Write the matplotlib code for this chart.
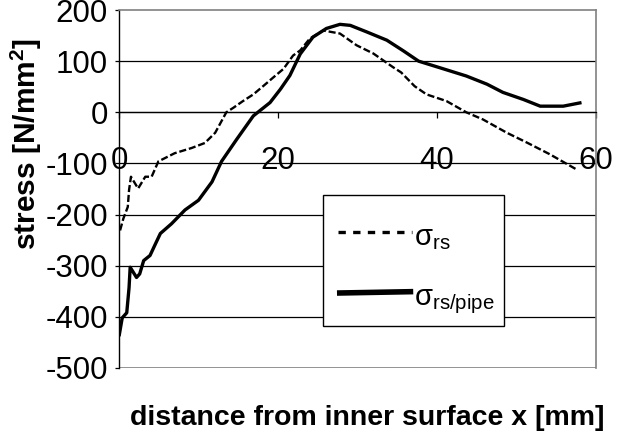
import matplotlib
matplotlib.use("Agg")
import matplotlib.pyplot as plt
from matplotlib.lines import Line2D
from matplotlib.patches import Rectangle

plt.rcParams['font.family'] = ['Liberation Sans', 'DejaVu Sans']
plt.rcParams['mathtext.default'] = 'regular'

# residual stress measured through the wall
x_rs = [0.13, 0.54, 1.1, 1.26, 1.5, 2.4, 3.3, 4.1, 4.95, 7.0, 9.1, 10.8, 12.1, 13.5,
        14.4, 15.6, 16.9, 18.2, 19.4, 20.7, 21.9, 22.8, 24.0, 25.7, 27.8, 29.9, 32.0,
        34.5, 35.5, 37.2, 38.7, 41.2, 43.7, 45.8, 48.8, 51.3, 54.2, 57.6]
y_rs = [-231, -208, -185, -152, -126, -149, -126, -126, -96, -80, -70, -60, -40, 0,
        9, 22, 35, 52, 68, 85, 111, 121, 144, 160, 154, 131, 115,
        88, 78, 51, 35, 22, 0, -14, -40, -59, -82, -112]

# residual stress of the pipe
x_pipe = [0.0, 0.4, 0.97, 1.26, 1.4, 2.2, 2.6, 3.1, 3.9, 4.5, 5.2, 6.6, 8.3, 10.0,
          11.7, 12.9, 14.8, 16.9, 19.0, 20.3, 21.5, 22.8, 24.4, 26.1, 27.8, 29.1,
          31.2, 33.7, 35.8, 37.7, 40.4, 43.7, 46.3, 48.3, 50.9, 53.0, 55.9, 58.2]
y_pipe = [-438, -402, -392, -343, -303, -323, -316, -290, -280, -260, -237, -218, -191, -172,
          -136, -96, -53, -7, 19, 45, 72, 114, 147, 164, 172, 170,
          157, 141, 120, 100, 87, 71, 55, 39, 25, 12, 12, 19]

x_ticks = [0, 20, 40, 60]
y_ticks = [200, 100, 0, -100, -200, -300, -400, -500]

fig = plt.figure(figsize=(6.2, 4.36), dpi=100)
ax = fig.add_axes([0.192, 0.156, 0.769, 0.821])

ax.plot(x_rs, y_rs, color='black', lw=1.7, linestyle=(0, (3, 1.2)))
ax.plot(x_pipe, y_pipe, color='black', lw=2.4, solid_capstyle='butt')

ax.set_xlim(0, 60)
ax.set_ylim(-500, 200)

# horizontal grid; outer frame is grey
for v in y_ticks[1:-1]:
    ax.axhline(v, color='black', lw=0.9, zorder=0)
ax.axhline(-500, color='#808080', lw=1.2, zorder=0)

ax.spines['bottom'].set_position(('data', 0))
ax.spines['bottom'].set_color('black')
ax.spines['bottom'].set_linewidth(0.9)
ax.spines['left'].set_color('black')
ax.spines['left'].set_linewidth(1.0)
ax.spines['top'].set_color('#808080')
ax.spines['top'].set_linewidth(1.2)
ax.spines['right'].set_color('#808080')
ax.spines['right'].set_linewidth(1.2)

ax.set_xticks(x_ticks)
ax.set_xticklabels([str(t) for t in x_ticks])
ax.set_yticks(y_ticks)
ax.set_yticklabels([str(t) for t in y_ticks])
ax.tick_params(axis='x', direction='out', length=4, width=0.9, pad=20, labelsize=22.5)
ax.tick_params(axis='y', direction='out', length=3, width=0.9, pad=5, labelsize=22.5)

fig.text(0.592, 0.042, 'distance from inner surface x [mm]', ha='center', va='center',
         fontsize=20.5, fontweight='bold')
fig.text(0.042, 0.670, 'stress [N/mm$^2$]', ha='center', va='center', rotation=90,
         fontsize=21.5, fontweight='bold')

# legend box
fig.add_artist(Rectangle((0.521, 0.252), 0.292, 0.300, transform=fig.transFigure,
                         facecolor='white', edgecolor='black', lw=1.0, zorder=5))
fig.add_artist(Line2D([0.545, 0.665], [0.468, 0.468], transform=fig.transFigure,
                      color='black', lw=2.4, linestyle=(0, (2.2, 2.2)), zorder=6))
fig.add_artist(Line2D([0.548, 0.662], [0.328, 0.331], transform=fig.transFigure,
                      color='black', lw=4, zorder=6))
fig.text(0.668, 0.438, r'$\sigma_{rs}$', fontsize=21, zorder=7)
fig.text(0.668, 0.300, r'$\sigma_{rs/pipe}$', fontsize=21, zorder=7)

fig.savefig('out.png', dpi=100)
